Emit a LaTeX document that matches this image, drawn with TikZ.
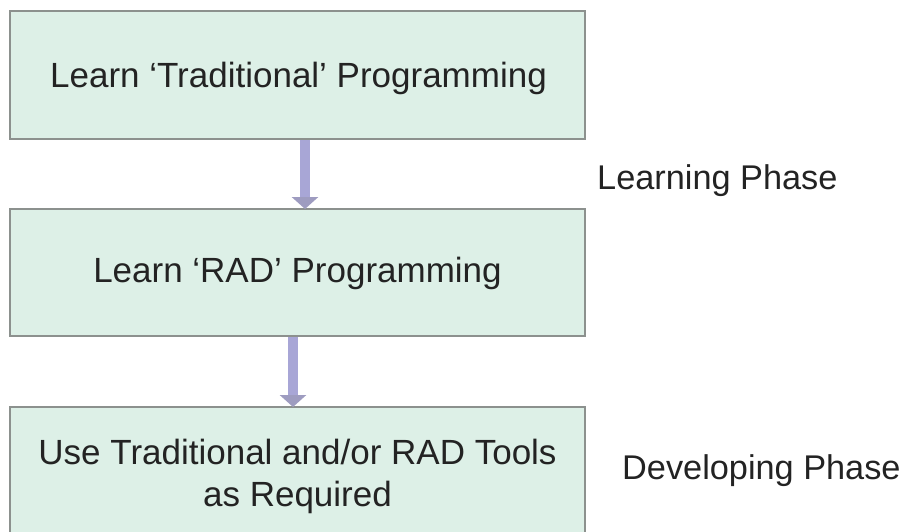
\documentclass[tikz,border=0pt]{standalone}
\usepackage{fontspec}
\setmainfont{Liberation Sans}
\usetikzlibrary{arrows.meta}
\definecolor{boxfill}{RGB}{221,240,231}
\definecolor{boxline}{RGB}{140,145,142}
\definecolor{txt}{RGB}{35,35,35}
\definecolor{shaft}{RGB}{168,166,214}
\begin{document}
\begin{tikzpicture}[x=1pt,y=-1pt,
  stepbox/.style={draw=boxline,line width=2pt,fill=boxfill},
  boxtext/.style={text=txt,font=\fontsize{35}{42}\selectfont,align=center,inner sep=0pt},
  phase/.style={text=txt,font=\fontsize{34.3}{40}\selectfont,inner sep=0pt,anchor=west},
  flow/.style={draw=shaft,line width=10pt,-{Triangle[width=26pt,length=12pt,color=shaft!75!gray]}}]
\useasboundingbox (0,0) rectangle (904,532);
\begin{scope}
\clip (0,0) rectangle (904,532);
\draw[stepbox] (10,11) rectangle (585,139);
\draw[stepbox] (10,209) rectangle (585,336);
\draw[stepbox] (10,407) rectangle (585,560);
\end{scope}
\node[boxtext] (b1) at (298.5,78) {Learn ‘Traditional’ Programming};
\node[boxtext] (b2) at (297.5,273) {Learn ‘RAD’ Programming};
\node[boxtext] (b3) at (297.5,476) {Use Traditional and/or RAD Tools\\as Required};
\coordinate (a1s) at (305,140);
\coordinate (a1e) at (305,209);
\coordinate (a2s) at (293,337);
\coordinate (a2e) at (293,407);
\draw[flow] (a1s) -- (a1e);
\draw[flow] (a2s) -- (a2e);
\node[phase] (lp) at (597,181) {Learning Phase};
\node[phase] (dp) at (622,471) {Developing Phase};
\end{tikzpicture}
\end{document}
